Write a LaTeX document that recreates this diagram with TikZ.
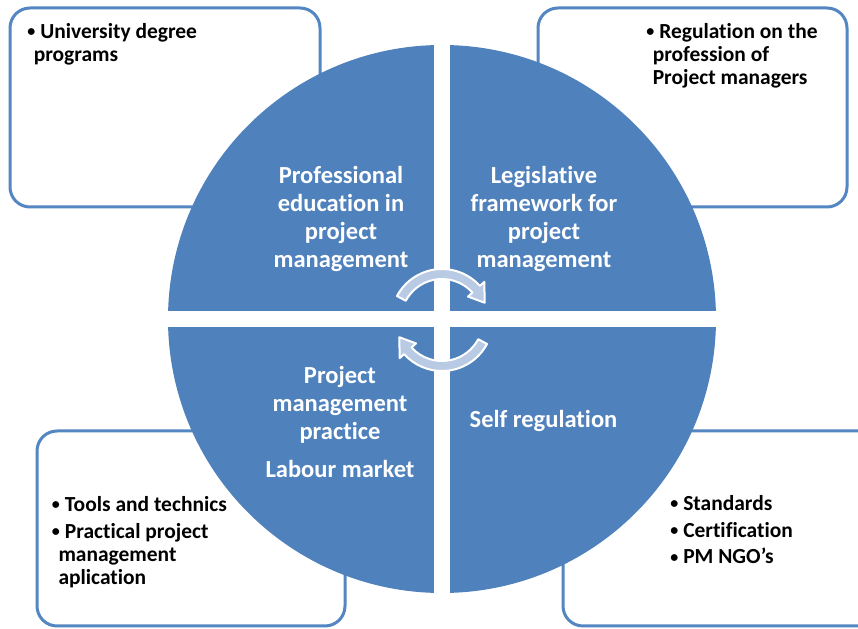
\documentclass[tikz,border=0pt]{standalone}
\usepackage{fontspec}
\setmainfont{Carlito}[Ligatures={TeX,NoCommon}]
\usetikzlibrary{calc}
\definecolor{pmblue}{RGB}{79,129,189}
\definecolor{pmline}{RGB}{84,134,194}
\definecolor{pmarrow}{RGB}{185,202,228}
\newcommand{\pmbullet}{\makebox[9.75pt][l]{\raisebox{1.4pt}{\fontsize{12}{12}\selectfont•}}}

\begin{document}
\begin{tikzpicture}[x=0.75pt,y=0.75pt,
  infobox/.style={draw=pmline,line width=2.25pt,fill=white,rounded corners=15pt},
  quad/.style={fill=pmblue},
  sectortext/.style={text=white,align=center,inner sep=0pt,
    font=\bfseries\fontsize{18.4}{21}\selectfont},
  itemtext/.style={align=left,anchor=base west,inner sep=0pt,
    font=\bfseries\fontsize{16.1}{17.6}\selectfont},
  cyclearrow/.style={fill=pmarrow,draw=white,line width=1.5pt,line join=round}]
\clip (0,0) rectangle (858,629);
\fill[white] (0,0) rectangle (858,629);

% boxes behind the circle
\draw[infobox] (10,621) rectangle (320,422);
\draw[infobox] (538,621) rectangle (847,422);
\draw[infobox] (37,198) rectangle (345,3);
\draw[infobox] (563,198) rectangle (880,3);

% base of each list = its last line
\node[itemtext] (uni) at (27,567.3)
  {\pmbullet University degree\\\hspace*{4.9pt}programs};
\node[itemtext] (reg) at (646,544)
  {\pmbullet Regulation on the\\\hspace*{4.9pt}profession of\\\hspace*{4.9pt}Project managers};
\node[itemtext] (tools) at (51.7,44)
  {\pmbullet Tools and technics\\[2.4pt]\pmbullet Practical project\\\hspace*{4.9pt}management\\\hspace*{4.9pt}aplication};
\node[itemtext] (std) at (670,65)
  {\pmbullet Standards\\[2.4pt]\pmbullet Certification\\[2.4pt]\pmbullet PM NGO’s};

% circle in four parts
\coordinate (O) at (442,310);
\begin{scope}
\clip (O) circle (274);
\fill[quad] (160,318) rectangle (434,600);
\fill[quad] (450,318) rectangle (730,600);
\fill[quad] (160,20) rectangle (434,302);
\fill[quad] (450,20) rectangle (730,302);
\end{scope}

\node[sectortext] (edu) at (341,410)
  {Professional\\education in\\project\\management};
\node[sectortext] (law) at (544,410)
  {Legislative\\framework for\\project\\management};
\node[sectortext] (prac) at (340,207)
  {Project\\management\\practice\\[7.5pt]Labour market};
\node[sectortext] (self) at (543.5,208) {Self regulation};

% the two turning arrows
\coordinate (R) at (442,309);
\begin{scope}[shift={(R)}]
\filldraw[cyclearrow] (152:51) arc[start angle=152,end angle=42,radius=51]
  -- (42:57) -- (22:46) -- (42:35) -- (42:41)
  arc[start angle=42,end angle=152,radius=41] -- cycle;
\filldraw[cyclearrow,rotate=180] (152:51) arc[start angle=152,end angle=42,radius=51]
  -- (42:57) -- (22:46) -- (42:35) -- (42:41)
  arc[start angle=42,end angle=152,radius=41] -- cycle;
\end{scope}
\end{tikzpicture}
\end{document}
